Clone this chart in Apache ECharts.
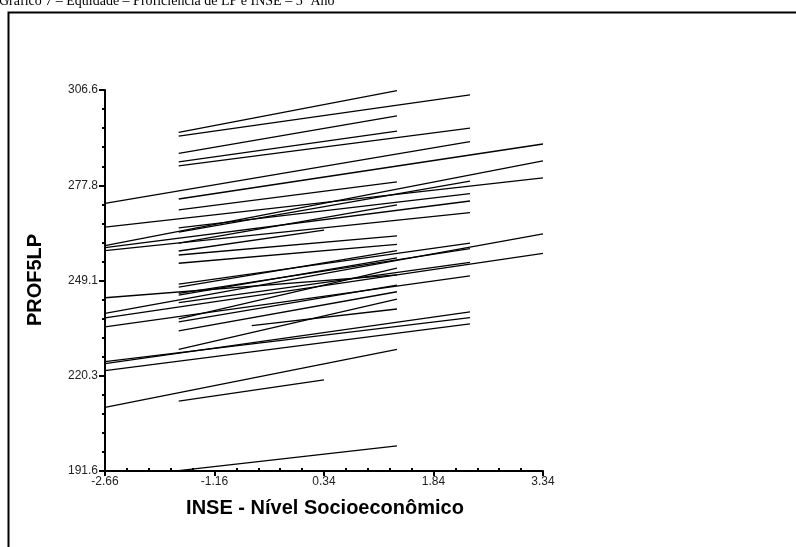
<!DOCTYPE html>
<html><head><meta charset="utf-8">
<script src="https://cdn.jsdelivr.net/npm/echarts@6/dist/echarts.min.js"></script>
<style>html,body{margin:0;padding:0;background:#fff}#c{width:796px;height:547px}</style>
</head><body><div id="c"></div><script>
// Segment endpoints (INSE, PROF5LP)
const xStart = [-1.65,-1.65,-1.65,-1.65,-1.65,-2.66,-1.65,-1.65,-2.66,-2.66,-2.66,-2.66,-2.66,-2.66,-2.66,-2.66,-2.66,-2.66,-2.66,-2.66,-1.65,-1.65,-1.65,-1.65,-1.65,-1.65,-1.65,-1.65,-1.65,-1.65,-1.65,-1.65,-1.65,-1.65,-1.65,-1.65,-1.65,-0.65];
const yStart = [293.8,292.7,287.5,284.9,283.7,272.4,273.7,270.4,265.2,259.6,259.0,258.1,243.9,239.2,237.8,235.1,224.6,224.0,221.9,210.8,265.0,263.7,258.0,212.7,191.7,260.4,248.0,245.2,242.4,256.8,254.3,247.1,244.7,237.5,236.6,233.9,228.3,235.5];
const xEnd   = [1.34,2.34,1.34,1.34,2.34,2.34,3.34,1.34,3.34,3.34,2.34,2.34,1.34,3.34,3.34,2.34,2.34,2.34,2.34,1.34,2.34,2.34,0.34,0.34,1.34,1.34,2.34,2.34,2.34,1.34,1.34,1.34,1.34,1.34,1.34,1.34,1.34,1.34];
const yEnd   = [306.4,305.1,298.8,294.2,295.1,291.0,290.3,278.9,280.1,285.2,273.1,269.6,250.8,263.2,257.3,250.5,237.9,239.6,236.0,228.3,275.3,279.1,264.3,219.1,199.2,271.9,260.4,258.7,254.6,262.6,260.0,258.1,255.9,252.8,247.7,245.7,243.5,240.5];
// Tick labels
const xTickLabels = [-2.66, -1.16, 0.34, 1.84, 3.34];
const yTickLabels = [191.6, 220.3, 249.1, 277.8, 306.6];

function minors(arr){
  const out=[];
  for(let i=0;i<arr.length-1;i++){
    const s=(arr[i+1]-arr[i])/5;
    for(let k=1;k<5;k++) out.push(arr[i]+k*s);
  }
  return out;
}
const font='"Liberation Sans", Arial, sans-serif';
const series = xStart.map((x,i)=>({
  type:'line', xAxisIndex:0, yAxisIndex:0,
  data:[[x,yStart[i]],[xEnd[i],yEnd[i]]],
  symbol:'none', silent:true, animation:false,
  lineStyle:{color:'#000', width:1.3}
}));
const xMin=xTickLabels[0], xMax=xTickLabels[xTickLabels.length-1];
const yMin=yTickLabels[0], yMax=yTickLabels[yTickLabels.length-1];
const chart = echarts.init(document.getElementById('c'), null, {renderer:'canvas'});
chart.setOption({
  animation:false,
  backgroundColor:'#fff',
  grid:{left:105, right:253, top:90, bottom:76, containLabel:false},
  xAxis:[{
    type:'value', min:xMin, max:xMax, position:'bottom',
    axisLine:{show:true, onZero:false, lineStyle:{color:'#000', width:2}},
    axisTick:{show:true, customValues:xTickLabels, length:5, lineStyle:{color:'#000', width:2}},
    axisLabel:{show:true, customValues:xTickLabels, formatter:v=>v.toFixed(2), color:'#222', fontFamily:font, fontSize:12, margin:5},
    splitLine:{show:false}
  },{
    type:'value', min:xMin, max:xMax, position:'bottom',
    axisLine:{show:false, onZero:false},
    axisTick:{show:true, inside:true, customValues:minors(xTickLabels), length:3, lineStyle:{color:'#000', width:2}},
    axisLabel:{show:false}, splitLine:{show:false}
  }],
  yAxis:[{
    type:'value', min:yMin, max:yMax, position:'left',
    axisLine:{show:true, onZero:false, lineStyle:{color:'#000', width:2}},
    axisTick:{show:true, customValues:yTickLabels, length:6, lineStyle:{color:'#000', width:2}},
    axisLabel:{show:true, customValues:yTickLabels, formatter:v=>v.toFixed(1), color:'#222', fontFamily:font, fontSize:12, margin:7},
    splitLine:{show:false}
  },{
    type:'value', min:yMin, max:yMax, position:'left',
    axisLine:{show:false, onZero:false},
    axisTick:{show:true, customValues:minors(yTickLabels), length:3, lineStyle:{color:'#000', width:2}},
    axisLabel:{show:false}, splitLine:{show:false}
  }],
  series: series,
  graphic:[
    {type:'rect', left:6, top:10, shape:{x:0,y:0,width:800,height:600}, style:{fill:null, stroke:'#000', lineWidth:2}, silent:true},
    {type:'text', x:-1, y:-6, style:{text:'Gráfico 7 – Equidade – Proficiência de LP e INSE – 5º Ano', font:'14px "Liberation Serif", "Times New Roman", serif', fill:'#000'}},
    {type:'text', x:325, y:508, style:{text:'INSE - Nível Socioeconômico', font:'bold 20px '+font, fill:'#000', align:'center', verticalAlign:'middle'}},
    {type:'text', x:35, y:280, rotation:Math.PI/2, style:{text:'PROF5LP', font:'bold 20px '+font, fill:'#000', align:'center', verticalAlign:'middle'}}
  ]
});
</script></body></html>
